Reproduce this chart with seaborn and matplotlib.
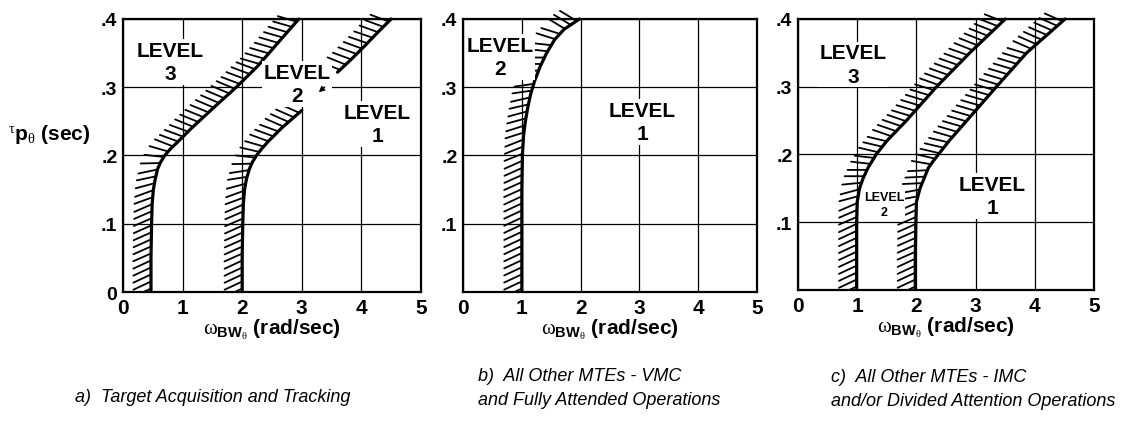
import numpy as np
import matplotlib
matplotlib.use('Agg')
import matplotlib.pyplot as plt
import matplotlib.patheffects as pe
from matplotlib.patches import Rectangle
import seaborn as sns

sns.set_theme(style='white')
plt.rcParams['font.family'] = ['Liberation Sans', 'DejaVu Sans']
plt.rcParams['text.color'] = 'black'
plt.rcParams['axes.labelcolor'] = 'black'
plt.rcParams['xtick.color'] = 'black'
plt.rcParams['ytick.color'] = 'black'
plt.rcParams['mathtext.fontset'] = 'custom'
plt.rcParams['mathtext.rm'] = 'Liberation Serif'
plt.rcParams['mathtext.bf'] = 'Liberation Sans:bold'
plt.rcParams['mathtext.it'] = 'Liberation Serif:italic'

# boundary curves (x = bandwidth, y = phase delay)
a_l32_y = [0, .05, .10, .13, .15, .165, .18, .19, .20, .21, .22, .24, .27, .30, .33, .36, .40]
a_l32_x = [.47, .47, .48, .49, .51, .54, .58, .63, .70, .80, .92, 1.15, 1.52, 1.9, 2.25, 2.55, 2.95]
a_l21_lo_y = [0, .05, .10, .13, .15, .165, .18, .19, .20, .21, .22, .24, .266]
a_l21_lo_x = [2.0, 2.0, 2.01, 2.02, 2.04, 2.07, 2.12, 2.17, 2.24, 2.33, 2.43, 2.66, 3.0]
a_l21_hi_y = [.322, .34, .36, .38, .40]
a_l21_hi_x = [3.6, 3.82, 4.05, 4.27, 4.5]

b_l21_y = [0, .05, .10, .15, .20, .23, .25, .27, .29, .31, .33, .35, .37, .385, .40]
b_l21_x = [1.0, 1.0, 1.0, 1.0, 1.01, 1.03, 1.06, 1.1, 1.15, 1.22, 1.31, 1.42, 1.56, 1.72, 1.98]

c_y = [0, .05, .10, .13, .15, .165, .18, .19, .20, .22, .25, .30, .35, .40]
c_l32_x = [.99, .99, .99, 1.0, 1.04, 1.1, 1.18, 1.25, 1.32, 1.5, 1.83, 2.34, 2.9, 3.5]
c_l21_x = [1.98, 1.98, 1.99, 2.0, 2.06, 2.13, 2.2, 2.28, 2.37, 2.55, 2.85, 3.35, 3.86, 4.51]

x_ticks = [0, 1, 2, 3, 4, 5]
y_ticks = [0, .1, .2, .3, .4]
y_labels_a = ['0', '.1', '.2', '.3', '.4']
y_labels_bc = ['', '.1', '.2', '.3', '.4']

# level labels: (text, x, y, size)
levels_a = [('LEVEL\n3', 0.79, 0.337, 15), ('LEVEL\n2', 2.92, 0.305, 15), ('LEVEL\n1', 4.27, 0.246, 15)]
levels_b = [('LEVEL\n2', 0.63, 0.344, 15), ('LEVEL\n1', 3.05, 0.249, 15)]
levels_c = [('LEVEL\n3', 0.93, 0.333, 15), ('LEVEL\n2', 1.45, 0.126, 9), ('LEVEL\n1', 3.28, 0.139, 15)]
arrow_a = [(3.25, 0.29), (3.42, 0.303)]

# caption lines: (text, x, baseline y) in figure fractions
captions = [('a)  Target Acquisition and Tracking', 0.067, 0.058),
            ('b)  All Other MTEs - VMC', 0.426, 0.108),
            ('and Fully Attended Operations', 0.426, 0.052),
            ('c)  All Other MTEs - IMC', 0.7406, 0.106),
            ('and/or Divided Attention Operations', 0.7406, 0.050)]

xlab = r'$\mathrm{\omega}_{\mathbf{BW}_{\mathrm{\theta}}}$ (rad/sec)'
ylab = r'${}^{\mathrm{\tau}}\mathbf{p}_{\mathrm{\theta}}$ (sec)'

fig = plt.figure(figsize=(11.22, 4.27), dpi=100)
ax_a = fig.add_axes([0.1096, 0.3138, 0.2656, 0.6394])
ax_b = fig.add_axes([0.4127, 0.3138, 0.2620, 0.6394])
ax_c = fig.add_axes([0.7112, 0.3185, 0.2640, 0.6347])

hatch = [pe.withTickedStroke(angle=115, spacing=5, length=2.8, linewidth=1.3)]


def boundary(ax, xs, ys):
    sns.lineplot(x=xs, y=ys, sort=False, estimator=None, ax=ax,
                 color='black', linewidth=2.3)
    line = ax.lines[-1]
    line.set_path_effects(hatch)
    # let the hatches poke out of the top but not the bottom
    line.set_clip_path(Rectangle((-0.2, 0), 1.4, 1.1, transform=ax.transAxes))


def setup(ax, ylabels, levels):
    ax.set_xlim(0, 5)
    ax.set_ylim(0, 0.4)
    ax.set_xticks(x_ticks)
    ax.set_xticklabels([str(t) for t in x_ticks], fontsize=15, fontweight='bold')
    ax.set_yticks(y_ticks)
    ax.set_yticklabels(ylabels, fontsize=14, fontweight='bold')
    ax.tick_params(length=0, pad=4, colors='black')
    ax.grid(True, color='black', linewidth=0.9)
    ax.set_axisbelow(True)
    for s in ax.spines.values():
        s.set_color('black')
        s.set_linewidth(1.6)
    ax.set_xlabel(xlab, fontsize=15, fontweight='bold', labelpad=0, color='black')
    ax.set_ylabel('')
    for txt, x, y, size in levels:
        ax.text(x, y, txt, ha='center', va='center', fontsize=size, fontweight='bold',
                linespacing=1.3, zorder=5,
                bbox=dict(facecolor='white', edgecolor='none', pad=1))


boundary(ax_a, a_l32_x, a_l32_y)
boundary(ax_a, a_l21_lo_x, a_l21_lo_y)
boundary(ax_a, a_l21_hi_x, a_l21_hi_y)
boundary(ax_b, b_l21_x, b_l21_y)
boundary(ax_c, c_l32_x, c_y)
boundary(ax_c, c_l21_x, c_y)

setup(ax_a, y_labels_a, levels_a)
setup(ax_b, y_labels_bc, levels_b)
setup(ax_c, y_labels_bc, levels_c)

ax_a.annotate('', xy=arrow_a[0], xytext=arrow_a[1], zorder=6,
              arrowprops=dict(arrowstyle='-|>', color='black', lw=1, mutation_scale=8))

fig.text(0.007, 0.684, ylab, fontsize=15, fontweight='bold', ha='left', va='center')

for txt, x, y in captions:
    fig.text(x, y, txt, fontsize=13, style='italic', ha='left', va='baseline')

fig.savefig('out.png', dpi=100)
